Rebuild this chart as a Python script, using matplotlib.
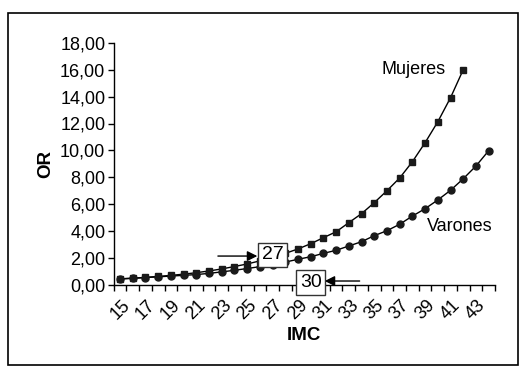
import matplotlib
matplotlib.use('Agg')
import matplotlib.pyplot as plt
from matplotlib.patches import Rectangle

# IMC categories and OR values
imc = list(range(15, 45))
mujeres = [0.42, 0.47, 0.53, 0.60, 0.68, 0.77, 0.88, 1.01, 1.16, 1.34,
           1.53, 1.76, 2.02, 2.32, 2.65, 3.04, 3.49, 3.93, 4.61, 5.28,
           6.10, 6.99, 7.94, 9.15, 10.57, 12.13, 13.92, 16.01]
varones = [0.42, 0.46, 0.52, 0.57, 0.63, 0.68, 0.74, 0.83, 0.94, 1.06,
           1.19, 1.33, 1.49, 1.67, 1.88, 2.07, 2.32, 2.55, 2.87, 3.19,
           3.64, 4.01, 4.49, 5.10, 5.65, 6.30, 7.02, 7.88, 8.83, 9.97]
yticks = [0, 2, 4, 6, 8, 10, 12, 14, 16, 18]
ytick_labels = ['0,00', '2,00', '4,00', '6,00', '8,00', '10,00', '12,00',
                '14,00', '16,00', '18,00']

plt.rcParams['font.family'] = ['Liberation Sans', 'DejaVu Sans']

W, H = 528, 375
fig = plt.figure(figsize=(W / 100, H / 100), dpi=100)
ax = fig.add_axes([113.7 / W, 1 - 284.5 / H, (495 - 113.7) / W, (284.5 - 43) / H])

# outer frame
fig.patches.append(Rectangle((7.5 / W, 1 - 365 / H), 510 / W, 352.5 / H,
                             transform=fig.transFigure, fill=False,
                             edgecolor='black', linewidth=1.2))

pos_m = list(range(len(mujeres)))
pos_v = list(range(len(varones)))
ax.plot(pos_m, mujeres, color='black', lw=1, marker='s', markersize=4.6,
        markerfacecolor='#1a1a1a', markeredgecolor='#1a1a1a', zorder=3)
ax.plot(pos_v, varones, color='black', lw=1, marker='o', markersize=5,
        markerfacecolor='#1a1a1a', markeredgecolor='#1a1a1a', zorder=3)

ax.set_xlim(-0.5, len(imc) - 0.5)
ax.set_ylim(0, 18)

# category axis: ticks between categories, labels every other category
ax.set_xticks([i - 0.5 for i in range(len(imc) + 1)])
ax.set_xticklabels([])
ax.set_xticks(list(range(0, len(imc), 2)), minor=True)
ax.set_xticklabels([str(v) for v in imc[::2]], minor=True, rotation=45,
                   ha='center', va='top', fontsize=13)
ax.tick_params(axis='x', which='major', direction='out', length=4, width=1)
ax.tick_params(axis='x', which='minor', length=0, pad=9)

ax.set_yticks(yticks)
ax.set_yticklabels(ytick_labels, fontsize=13)
ax.tick_params(axis='y', direction='out', length=4, width=1, pad=2)

for s in ['top', 'right']:
    ax.spines[s].set_visible(False)
for s in ['left', 'bottom']:
    ax.spines[s].set_linewidth(1)

ax.set_xlabel('IMC', fontsize=13.5, fontweight='bold', labelpad=3)
ax.set_ylabel('OR', fontsize=13.5, fontweight='bold', labelpad=4)

ax.text(25.6, 16.0, 'Mujeres', fontsize=13, ha='right', va='center')
ax.text(29.3, 4.3, 'Varones', fontsize=13, ha='right', va='center')

arrow = dict(arrowstyle='-|>', color='black', lw=1, mutation_scale=15,
             shrinkA=0, shrinkB=0)
box = dict(boxstyle='square,pad=0.2', facecolor='white', edgecolor='#333333', lw=1)
ax.annotate('', xy=(10.8, 2.12), xytext=(7.7, 2.12), arrowprops=arrow)
ax.text(12.0, 2.2, '27', fontsize=14, ha='center', va='center', bbox=box,
        zorder=5)
ax.annotate('', xy=(16.1, 0.26), xytext=(18.85, 0.26), arrowprops=arrow,
            annotation_clip=False)
ax.text(15.0, 0.17, '30', fontsize=14, ha='center', va='center', bbox=box,
        zorder=5, clip_on=False)

fig.savefig('out.png', dpi=100)
